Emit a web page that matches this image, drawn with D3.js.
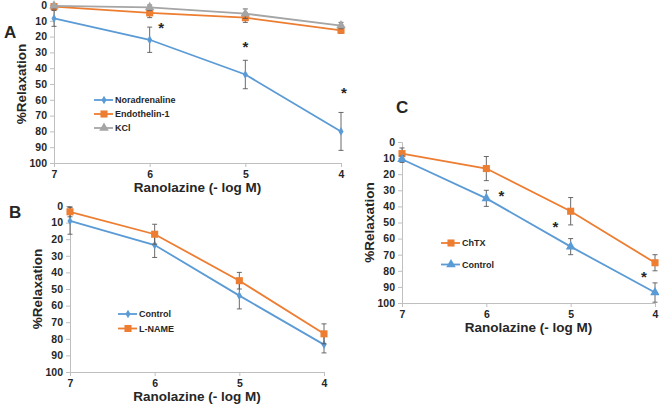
<!DOCTYPE html>
<html>
<head>
<meta charset="utf-8">
<script src="https://cdn.jsdelivr.net/npm/d3@7"></script>
<style>
  body { margin: 0; background: #fff; }
  text { font-family: "Liberation Sans", Arial, sans-serif; font-weight: bold; fill: #262626; }
</style>
</head>
<body>
<div id="chart"></div>
<script>
// Shared axes
const doses = [7, 6, 5, 4]
const yTicks = [0, 10, 20, 30, 40, 50, 60, 70, 80, 90, 100]

// Panel A
const noradrenaline = [8.5, 22, 44, 80]
const noradrenalineErr = [5, 8, 9, 12]
const endothelin = [1, 5, 8, 16]
const endothelinErr = [2, 3, 3, 2]
const kcl = [0.5, 1.5, 5.5, 13]
const kclErr = [2, 2, 3, 2]
const starsA = [[5.88, 12.7], [5.0, 24.7], [3.97, 53.8]]

// Panel B
const controlB = [9, 23.5, 54, 83.5]
const controlBErr = [8, 7.5, 8, 5]
const lname = [3.5, 17, 45, 77]
const lnameErr = [3, 6, 5, 6]

// Panel C
const chtx = [7.2, 16.5, 43, 75]
const chtxErr = [3.5, 7.5, 8.5, 5]
const controlC = [10.7, 35, 65, 93.5]
const controlCErr = [2, 5, 5, 6]
const starsC = [[5.82, 31.7], [5.18, 51], [4.13, 82]]

const blue = '#5b9bd5', orange = '#ed7d31', grey = '#a5a5a5'

const width = 659, height = 405

let svg = d3.select('#chart')
  .append('svg')
  .attr('width', width)
  .attr('height', height)

let symbolFor = (shape) => {
  if (shape === 'square') return d3.symbol().type(d3.symbolSquare).size(50)
  if (shape === 'triangle') return d3.symbol().type(d3.symbolTriangle).size(40)
  return d3.symbol().type(d3.symbolDiamond).size(22)
}

let drawPanel = (p) => {
  const x = d3.scaleLinear().domain([7, 4]).range([p.x0, p.x1])
  const y = d3.scaleLinear().domain([0, 100]).range([p.y0, p.y1])
  const g = svg.append('g')

  // y axis
  const yAxis = d3.axisLeft(y).tickValues(yTicks).tickSize(4).tickPadding(3).tickFormat(d3.format('d'))
  g.append('g').attr('transform', `translate(${p.x0},0)`).call(yAxis)
  // x axis
  const xAxis = d3.axisBottom(x).tickValues(doses).tickSize(4).tickPadding(4).tickFormat(d3.format('d'))
  g.append('g').attr('transform', `translate(0,${p.y1})`).call(xAxis)

  g.selectAll('.domain').attr('stroke', '#bfbfbf')
  g.selectAll('.tick line').attr('stroke', '#bfbfbf')
  g.selectAll('.tick text')
    .attr('font-size', 10.5).attr('font-weight', 'bold')
    .attr('font-family', '"Liberation Sans", Arial, sans-serif').attr('fill', '#262626')

  // titles
  g.append('text')
    .attr('x', (p.x0 + p.x1) / 2)
    .attr('y', p.y1 + 29)
    .attr('text-anchor', 'middle')
    .attr('font-size', 13.5)
    .text('Ranolazine (- log M)')
  g.append('text')
    .attr('transform', `translate(${p.x0 - 28},${(p.y0 + p.y1) / 2}) rotate(-90)`)
    .attr('text-anchor', 'middle')
    .attr('font-size', 13.5)
    .text('%Relaxation')
  g.append('text')
    .attr('x', p.labelX).attr('y', p.labelY)
    .attr('font-size', 17)
    .attr('fill', '#000')
    .text(p.label)

  // series
  p.series.forEach(s => {
    const pts = doses.map((d, i) => ({ dose: d, v: s.values[i], e: s.err[i] }))
    g.append('path')
      .datum(pts)
      .attr('fill', 'none')
      .attr('stroke', s.color)
      .attr('stroke-width', 1.8)
      .attr('d', d3.line().x(d => x(d.dose)).y(d => y(d.v)))

    const lo = d => y(Math.max(0, d.v - d.e))
    const hi = d => y(Math.min(100, d.v + d.e))
    const eb = g.append('g').selectAll('g').data(pts).enter().append('g')
    eb.append('line')
      .attr('x1', d => x(d.dose)).attr('x2', d => x(d.dose))
      .attr('y1', lo).attr('y2', hi)
      .attr('stroke', '#595959').attr('stroke-width', 0.9)
    eb.append('line')
      .attr('x1', d => x(d.dose) - 2.5).attr('x2', d => x(d.dose) + 2.5)
      .attr('y1', lo).attr('y2', lo)
      .attr('stroke', '#595959').attr('stroke-width', 0.9)
    eb.append('line')
      .attr('x1', d => x(d.dose) - 2.5).attr('x2', d => x(d.dose) + 2.5)
      .attr('y1', hi).attr('y2', hi)
      .attr('stroke', '#595959').attr('stroke-width', 0.9)

    g.append('g').selectAll('path').data(pts).enter().append('path')
      .attr('d', symbolFor(s.shape))
      .attr('transform', d => `translate(${x(d.dose)},${y(d.v)})`)
      .attr('fill', s.color)
  })

  // significance marks
  g.selectAll('.star').data(p.stars).enter().append('text')
    .attr('class', 'star')
    .attr('x', d => x(d[0])).attr('y', d => y(d[1]))
    .attr('dy', '0.5em')
    .attr('text-anchor', 'middle')
    .attr('font-size', 15)
    .attr('fill', '#000')
    .text('*')

  // legend
  p.series.forEach((s, i) => {
    const ly = p.legY + i * p.legStep
    g.append('line')
      .attr('x1', p.legX).attr('x2', p.legX + 19)
      .attr('y1', ly).attr('y2', ly)
      .attr('stroke', s.color).attr('stroke-width', 1.8)
    g.append('path')
      .attr('d', symbolFor(s.shape))
      .attr('transform', `translate(${p.legX + 10},${ly})`)
      .attr('fill', s.color)
    g.append('text')
      .attr('x', p.legX + 21).attr('y', ly)
      .attr('dy', '0.35em')
      .attr('font-size', 9)
      .text(s.name)
  })
}

drawPanel({
  label: 'A', labelX: 4, labelY: 38,
  x0: 54, x1: 341, y0: 5, y1: 163,
  legX: 94, legY: 100, legStep: 14,
  stars: starsA,
  series: [
    { name: 'Noradrenaline', values: noradrenaline, err: noradrenalineErr, color: blue, shape: 'diamond' },
    { name: 'Endothelin-1', values: endothelin, err: endothelinErr, color: orange, shape: 'square' },
    { name: 'KCl', values: kcl, err: kclErr, color: grey, shape: 'triangle' }
  ]
})

drawPanel({
  label: 'B', labelX: 9, labelY: 218,
  x0: 70, x1: 324, y0: 206, y1: 372,
  legX: 118, legY: 314, legStep: 14.5,
  stars: [],
  series: [
    { name: 'Control', values: controlB, err: controlBErr, color: blue, shape: 'diamond' },
    { name: 'L-NAME', values: lname, err: lnameErr, color: orange, shape: 'square' }
  ]
})

drawPanel({
  label: 'C', labelX: 396, labelY: 113,
  x0: 402, x1: 655, y0: 142, y1: 303,
  legX: 441, legY: 243, legStep: 21.5,
  stars: starsC,
  series: [
    { name: 'ChTX', values: chtx, err: chtxErr, color: orange, shape: 'square' },
    { name: 'Control', values: controlC, err: controlCErr, color: blue, shape: 'triangle' }
  ]
})
</script>
</body>
</html>
